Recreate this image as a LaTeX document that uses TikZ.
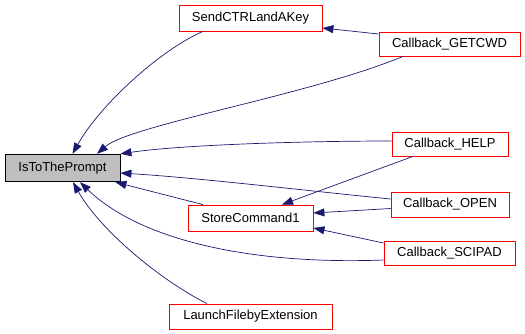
\documentclass[tikz,border=0pt]{standalone}
\usepackage{fontspec}
\setmainfont{Liberation Sans}
\usetikzlibrary{arrows.meta}
\definecolor{edgeblue}{HTML}{191970}
\definecolor{boxred}{HTML}{FF0000}
\definecolor{boxgray}{HTML}{BFBFBF}
\tikzset{
  fnbox/.style={draw=boxred, line width=0.8pt, fill=white, inner sep=0pt,
    font=\fontsize{13}{15}\selectfont, text=black},
  mainbox/.style={draw=black, line width=0.8pt, fill=boxgray, inner sep=0pt,
    font=\fontsize{13}{15}\selectfont, text=black},
  dep/.style={draw=edgeblue, line width=0.7pt,
    -{Triangle[length=11pt,width=8pt]}, color=edgeblue},
}
\begin{document}
\begin{tikzpicture}[x=1pt,y=-1pt]
\useasboundingbox (0,0) rectangle (525,333);
% edges first (behind nodes)
\node[mainbox, minimum width=115pt, minimum height=27.5pt] (isto) at (62.5,168) {IsToThePrompt};
\node[fnbox, minimum width=143pt, minimum height=26pt] (send) at (250.5,18) {SendCTRLandAKey};
\node[fnbox, minimum width=141pt, minimum height=24pt] (getcwd) at (449.5,44) {Callback\_GETCWD};
\node[fnbox, minimum width=116pt, minimum height=24pt] (help) at (450,144) {Callback\_HELP};
\node[fnbox, minimum width=118pt, minimum height=25pt] (open) at (450,204.5) {Callback\_OPEN};
\node[fnbox, minimum width=125pt, minimum height=26pt] (store) at (250.5,218) {StoreCommand1};
\node[fnbox, minimum width=131pt, minimum height=24pt] (scipad) at (449.5,253) {Callback\_SCIPAD};
\node[fnbox, minimum width=163pt, minimum height=25pt] (launch) at (250.5,316.5) {LaunchFilebyExtension};

\draw[dep] ([yshift=10pt]getcwd.west) -- ([yshift=-10pt]send.east);
\draw[dep] ([xshift=-47.5pt]send.south) .. controls (160,50) and (100,105) .. ([xshift=10pt]isto.north);
\draw[dep] ([xshift=-46.5pt]getcwd.south) .. controls (310,95) and (130,125) .. ([xshift=34.5pt]isto.north);
\draw[dep] ([yshift=3pt]help.west) .. controls (300,141) and (180,145) .. (isto.north east);
\draw[dep] ([xshift=-37pt]help.south) -- ([xshift=31.5pt]store.north);
\draw[dep] ([yshift=5.5pt]open.west) .. controls (300,190) and (200,178) .. ([yshift=-5pt]isto.east);
\draw[dep] ([yshift=-4pt]open.west) -- ([yshift=5pt]store.east);
\draw[dep] ([yshift=10pt]scipad.west) -- ([yshift=-10pt]store.east);
\draw[dep] ([yshift=-7pt]scipad.west) .. controls (250,265) and (140,240) .. ([xshift=17.5pt]isto.south);
\draw[dep] ([xshift=-47.5pt]store.north) -- ([xshift=-5pt]isto.south east);
\draw[dep] ([xshift=-43.5pt]launch.north) .. controls (160,280) and (100,230) .. ([xshift=10.5pt]isto.south);
\end{tikzpicture}
\end{document}
